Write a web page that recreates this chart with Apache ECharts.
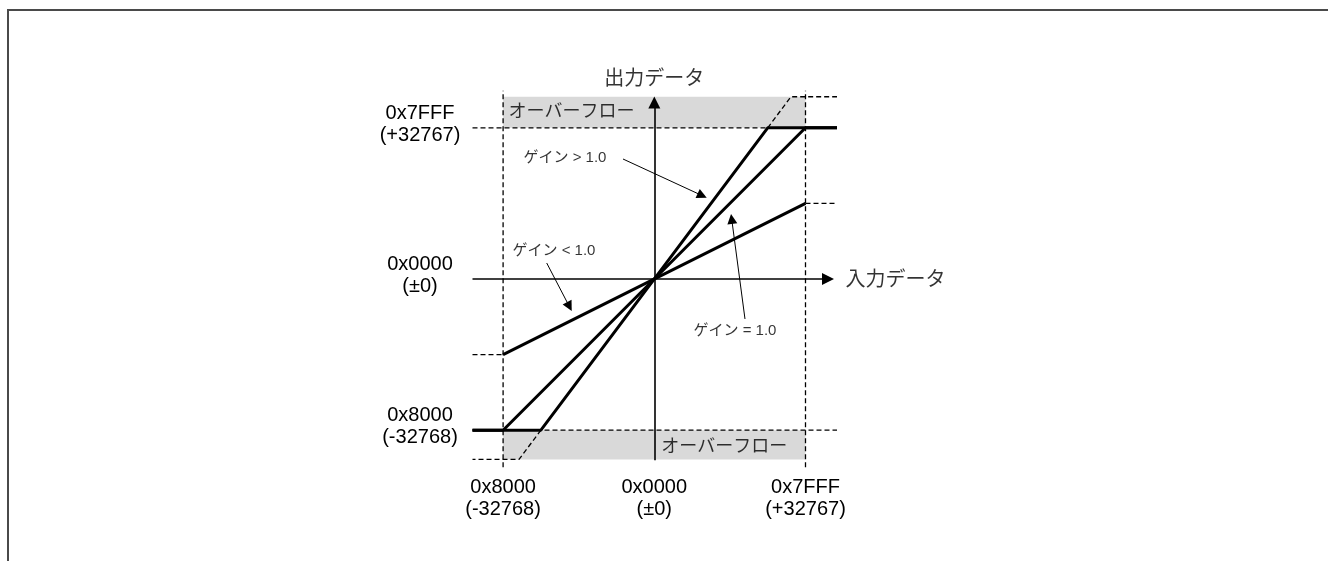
<!DOCTYPE html>
<html>
<head>
<meta charset="utf-8">
<script src="https://cdn.jsdelivr.net/npm/echarts@6/dist/echarts.min.js"></script>
<style>
  html, body { margin: 0; padding: 0; background: #fff; overflow: hidden; }
  #frame { position: absolute; left: 7px; top: 9px; width: 1340px; height: 570px;
           border-left: 2px solid #4a4a4a; border-top: 2px solid #4a4a4a; }
  #chart { position: absolute; left: 0; top: 0; width: 1328px; height: 561px; }
</style>
</head>
<body>
<div id="frame"></div>
<div id="chart"></div>
<script>
// ---------------- data ----------------
const tickValues   = [-32768, 0, 32767];
const xTickLabels  = ['0x8000\n(-32768)', '0x0000\n(±0)', '0x7FFF\n(+32767)'];
const yTickLabels  = [['0x8000', '(-32768)'], ['0x0000', '(±0)'], ['0x7FFF', '(+32767)']];

// output vs input for the three gains (clipped at the 16-bit limits)
const gainLow   = [[-32768, -16384], [32767, 16383]];                                   // gain 0.5
const gainUnity = [[-39400, -32768], [-32768, -32768], [32767, 32767], [39600, 32767]]; // gain 1.0
const gainHigh  = [[-39400, -32768], [-24576, -32768], [24576, 32767], [39600, 32767]]; // gain 4/3

// overflow regions
const overflowTop    = [[-32768, 32767], [32767, 39500]];
const overflowBottom = [[-32768, -39100], [32767, -32768]];

// dashed guide lines
const guideLimitTop    = [[-39400, 32767], [39600, 32767]];
const guideLimitBottom = [[-39400, -32768], [39600, -32768]];
const guideMinInput    = [[-32768, -40800], [-32768, 40800]];
const guideMaxInput    = [[32767, -40800], [32767, 40800]];
const guideLowEnd      = [[32767, 16383], [39600, 16383]];
const guideLowStart    = [[-39400, -16384], [-32768, -16384]];
const guideHighTop     = [[24576, 32767], [29625, 39500], [39600, 39500]];
const guideHighBottom  = [[-24576, -32768], [-29325, -39100], [-39400, -39100]];

// axes (arrows)
const axisInput  = [[-39400, 0], [37640, 0]];
const axisOutput = [[0, -39300], [0, 38250]];

// annotation arrows
const arrowHigh  = [[-6783, 26004], [10380, 18073]];
const arrowLow   = [[-23317, 3467], [-18398, -5981]];
const arrowUnity = [[19655, -8668], [16772, 13002]];

// texts
const annotationTexts = ['ゲイン > 1.0', 'ゲイン < 1.0', 'ゲイン = 1.0'];
const annotationAt    = [[-28455, 26221], [-30836, 6068], [8386, -11203]];
const overflowText    = 'オーバーフロー';
const overflowAt      = [[-31700, 36254], [1400, -36341]];
const inputTitle      = '入力データ';
const inputTitleAt    = [41324, -250];
const outputTitle     = '出力データ';
const outputTitleAt   = [0, 43150];

// ---------------- chart ----------------
const FONT = '"Liberation Sans", Arial, "Noto Sans CJK JP", sans-serif';
const chart = echarts.init(document.getElementById('chart'), null, { renderer: 'canvas' });

function xLabel(v) {
  const i = tickValues.indexOf(v);
  return i >= 0 ? xTickLabels[i] : '';
}
function yLabel(v) {
  const i = tickValues.indexOf(v);
  if (i < 0) return '';
  return '{a|' + yTickLabels[i][0] + '}\n{a|' + yTickLabels[i][1] + '}\n{s| }';
}

const leftText = (text, at, size) => ({
  value: at,
  label: { show: true, formatter: text, position: 'right', distance: 0,
           fontSize: size, color: '#000', fontFamily: FONT }
});

const option = {
  animation: false,
  backgroundColor: 'transparent',
  grid: { left: 460.5, top: 85.2, width: 387.6, height: 387.6,
          containLabel: false, outerBoundsMode: 'none' },
  xAxis: {
    type: 'value', min: -42000, max: 42000,
    axisLine: { show: false }, axisTick: { show: false }, splitLine: { show: false },
    axisLabel: {
      customValues: tickValues, formatter: xLabel,
      fontSize: 20, lineHeight: 22, color: '#000', fontFamily: FONT, margin: 4,
      showMinLabel: true, showMaxLabel: true
    }
  },
  yAxis: {
    type: 'value', min: -42000, max: 42000,
    axisLine: { show: false }, axisTick: { show: false }, splitLine: { show: false },
    axisLabel: {
      customValues: tickValues, formatter: yLabel,
      align: 'center', margin: 40.5,
      showMinLabel: true, showMaxLabel: true,
      rich: {
        a: { fontSize: 20, lineHeight: 22, color: '#000', fontFamily: FONT, align: 'center' },
        s: { fontSize: 1, lineHeight: 7 }
      }
    }
  },
  series: [
    {
      type: 'line', name: 'overflow', data: [], z: 1, silent: true,
      markArea: {
        silent: true,
        itemStyle: { color: '#d9d9d9' },
        data: [
          [{ coord: overflowTop[0] }, { coord: overflowTop[1] }],
          [{ coord: overflowBottom[0] }, { coord: overflowBottom[1] }]
        ]
      }
    },
    {
      type: 'lines', coordinateSystem: 'cartesian2d', polyline: true, z: 2, silent: true,
      symbol: 'none',
      lineStyle: { color: '#000', width: 1.3, type: [5, 3], opacity: 1 },
      data: [guideLimitTop, guideLimitBottom, guideMinInput, guideMaxInput,
             guideLowEnd, guideLowStart, guideHighTop, guideHighBottom].map(c => ({ coords: c }))
    },
    {
      type: 'lines', coordinateSystem: 'cartesian2d', z: 3, silent: true,
      symbol: ['none', 'triangle'], symbolSize: 12,
      lineStyle: { color: '#000', width: 1.6, opacity: 1 },
      itemStyle: { color: '#000' },
      data: [axisInput, axisOutput].map(c => ({ coords: c }))
    },
    {
      type: 'line', name: 'gain < 1', data: gainLow, z: 4, showSymbol: false, silent: true,
      clip: false, lineStyle: { color: '#000', width: 3 }
    },
    {
      type: 'line', name: 'gain = 1', data: gainUnity, z: 4, showSymbol: false, silent: true,
      clip: false, lineStyle: { color: '#000', width: 3 }
    },
    {
      type: 'line', name: 'gain > 1', data: gainHigh, z: 4, showSymbol: false, silent: true,
      clip: false, lineStyle: { color: '#000', width: 3 }
    },
    {
      type: 'lines', coordinateSystem: 'cartesian2d', z: 5, silent: true,
      symbol: ['none', 'triangle'], symbolSize: 10,
      lineStyle: { color: '#000', width: 1, opacity: 1 },
      itemStyle: { color: '#000' },
      data: [arrowHigh, arrowLow, arrowUnity].map(c => ({ coords: c }))
    },
    {
      type: 'scatter', z: 6, silent: true, clip: false, symbolSize: 1,
      itemStyle: { color: 'rgba(0,0,0,0)' },
      data: [
        leftText(annotationTexts[0], annotationAt[0], 15),
        leftText(annotationTexts[1], annotationAt[1], 15),
        leftText(annotationTexts[2], annotationAt[2], 15),
        leftText(overflowText, overflowAt[0], 18),
        leftText(overflowText, overflowAt[1], 18),
        leftText(inputTitle, inputTitleAt, 20),
        {
          value: outputTitleAt,
          label: { show: true, formatter: outputTitle, position: 'inside',
                   fontSize: 20, color: '#000', fontFamily: FONT }
        }
      ]
    }
  ]
};
chart.setOption(option);
</script>
</body>
</html>
